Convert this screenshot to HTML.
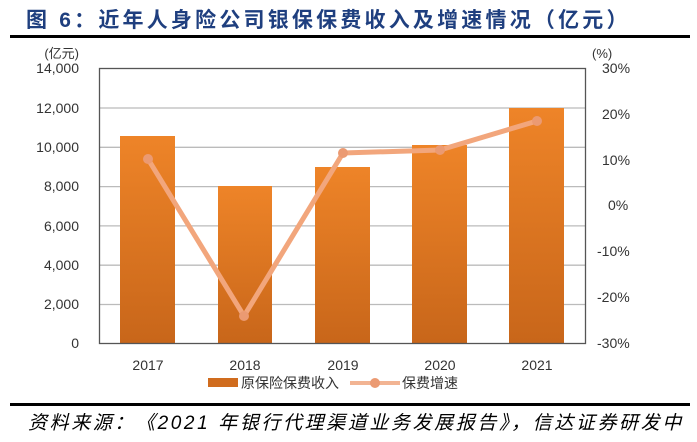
<!DOCTYPE html>
<html><head><meta charset="utf-8"><style>
body{margin:0;background:#fff;width:697px;height:442px;overflow:hidden;position:relative;font-family:"Liberation Sans","Noto Sans CJK SC",sans-serif}
.t{position:absolute;white-space:nowrap}
</style></head><body>
<div class="t" style="left:26px;top:4px;font-size:21px;font-weight:bold;color:#1f3f7f;letter-spacing:3.2px">图 6：近年人身险公司银保保费收入及增速情况（亿元）</div>
<div style="position:absolute;left:10px;top:35px;width:680px;height:3px;background:#000"></div>
<svg width="697" height="442" style="position:absolute;left:0;top:0" font-family="Liberation Sans,Noto Sans CJK SC,sans-serif">
<defs><linearGradient id="g" x1="0" y1="0" x2="0" y2="1"><stop offset="0" stop-color="#ee8428"/><stop offset="1" stop-color="#c8661a"/></linearGradient></defs>
<g stroke="#bbb" stroke-width="1.3">
<line x1="99" x2="586" y1="108" y2="108"/><line x1="99" x2="586" y1="147.3" y2="147.3"/><line x1="99" x2="586" y1="186.6" y2="186.6"/><line x1="99" x2="586" y1="225.9" y2="225.9"/><line x1="99" x2="586" y1="265.2" y2="265.2"/><line x1="99" x2="586" y1="304.5" y2="304.5"/>
</g>
<g fill="url(#g)">
<rect x="120" y="136" width="55" height="207"/><rect x="218" y="186" width="54" height="157"/><rect x="315" y="167" width="55" height="176"/><rect x="412" y="145" width="55" height="198"/><rect x="509" y="108" width="55" height="235"/>
</g>
<rect x="99.5" y="68.5" width="486" height="275" fill="none" stroke="#555" stroke-width="1.3"/>
<polyline points="148,159 244,316 343,153 440,150 537,121" fill="none" stroke="#f2a67c" stroke-width="5" stroke-linejoin="round"/>
<g fill="#eb9a72"><circle cx="148" cy="159" r="5"/><circle cx="244" cy="316" r="5"/><circle cx="343" cy="153" r="5"/><circle cx="440" cy="150" r="5"/><circle cx="537" cy="121" r="5"/></g>
<g font-size="14" fill="#333" text-anchor="end">
<text x="79" y="58" font-size="13">(亿元)</text>
<text x="79" y="73">14,000</text><text x="79" y="113">12,000</text><text x="79" y="152">10,000</text><text x="79" y="191">8,000</text><text x="79" y="231">6,000</text><text x="79" y="270">4,000</text><text x="79" y="309">2,000</text><text x="79" y="348">0</text>
</g>
<g font-size="14" fill="#333">
<text x="592" y="58" font-size="13">(%)</text>
<text x="602" y="73">30%</text><text x="602" y="119">20%</text><text x="602" y="165">10%</text><text x="608" y="210">0%</text><text x="597" y="256">-10%</text><text x="597" y="302">-20%</text><text x="597" y="348">-30%</text>
</g>
<g font-size="14" fill="#333" text-anchor="middle">
<text x="148" y="370">2017</text><text x="245" y="370">2018</text><text x="343" y="370">2019</text><text x="440" y="370">2020</text><text x="537" y="370">2021</text>
</g>
<rect x="208" y="378" width="30" height="9" fill="#d06c1e"/>
<text x="241" y="388" font-size="14" fill="#333">原保险保费收入</text>
<line x1="350" y1="383" x2="400" y2="383" stroke="#f2b493" stroke-width="4"/>
<circle cx="375" cy="383" r="5" fill="#eb9a72"/>
<text x="402" y="388" font-size="14" fill="#333">保费增速</text>
</svg>
<div style="position:absolute;left:10px;top:403px;width:680px;height:3px;background:#000"></div>
<div class="t" style="left:28px;top:408px;font-size:19px;font-style:italic;color:#000;letter-spacing:2.6px">资料来源：《2021 年银行代理渠道业务发展报告》，信达证券研发中</div>
</body></html>
